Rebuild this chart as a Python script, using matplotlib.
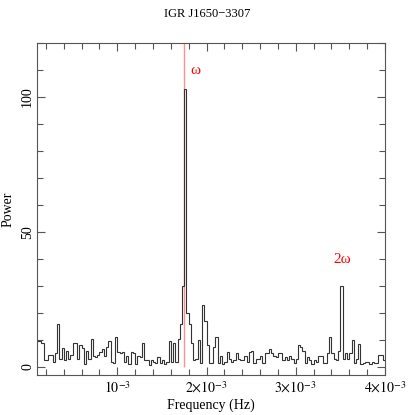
import numpy as np
import matplotlib
matplotlib.use('Agg')
import matplotlib.pyplot as plt
from matplotlib.ticker import FixedLocator, MultipleLocator

plt.rcParams['font.family'] = 'Liberation Serif'
plt.rcParams['mathtext.fontset'] = 'stix'

# power spectrum, bins of 2.5e-5 Hz starting at 1e-4 Hz
f_start = 1e-4
df = 2.5e-5
power = [
    9.5, 9.5, 9, 2.5, 2.5, 4.5, 4.5, 2, 5, 16,
    3, 7, 2.5, 6, 3, 4.5, 9, 9, 3, 8,
    7, 1, 6, 3, 10.5, 4, 3.5, 4.5, 5.5, 6.5,
    4, 7.5, 9.5, 2, 1.3, 11, 5.5, 5, 5.5, 2,
    4, 1, 5.5, 5, 1, 4, 3.5, 8.8, 2.5, 2.5,
    0.7, 2.5, 2, 1.5, 3.5, 1.5, 2.5, 1, 2, 9.5,
    2, 9, 2, 10.5, 16, 30, 103, 20, 16, 9,
    2.5, 3, 10, 1.5, 23, 17, 8, 1.5, 1.5, 7.5,
    11, 1.5, 4, 1, 2, 5.5, 3, 2, 2.5, 5,
    3, 2.5, 2.5, 4, 2, 5.5, 6, 1.5, 3, 3,
    4, 1.5, 5, 5, 6.7, 5, 4, 3.5, 5, 5,
    2.5, 3.5, 2.5, 4, 3, 1.5, 3, 8.2, 7.5, 6,
    1.5, 3.5, 2.5, 1, 2.5, 2, 4, 4, 1.5, 1.5,
    5.3, 11, 5.3, 3, 2.5, 6, 30, 3, 5.3, 3,
    5.3, 10, 1.5, 3, 8.5, 1, 1.5, 2, 2, 1.2,
    2, 1.5, 1.5, 4.5, 4.5, 2.5,
]
edges = f_start + df * np.arange(len(power) + 1)

omega = 1.745e-3
omega_label = ('ω', 1.82e-3, 109.7)
omega2_label = ('2ω', 3.52e-3, 39.8)

xticks = [1e-3, 2e-3, 3e-3, 4e-3]
xticklabels = [r'$10^{-3}$', r'$2{\times}10^{-3}$', r'$3{\times}10^{-3}$', r'$4{\times}10^{-3}$']
yticks = [0, 50, 100]

fig = plt.figure(figsize=(4.15, 4.15), dpi=100)
ax = fig.add_axes([37/415, 1 - 375/415, 348/415, 332/415])

ax.vlines(omega, 0, 120, color='#ff9090', linewidth=1.0, zorder=1)
ax.stairs(power, edges, color='#333333', linewidth=0.8, baseline=None, zorder=2)

ax.text(omega_label[1], omega_label[2], omega_label[0], color='red', fontsize=11,
        ha='left', va='center')
ax.text(omega2_label[1], omega2_label[2], omega2_label[0], color='red', fontsize=11,
        ha='center', va='center')

ax.set_xlim(1e-4, 4e-3)
ax.set_ylim(-3, 120)

ax.xaxis.set_major_locator(FixedLocator(xticks))
ax.set_xticklabels(xticklabels)
ax.xaxis.set_minor_locator(MultipleLocator(2e-4))
ax.yaxis.set_major_locator(FixedLocator(yticks))
ax.yaxis.set_minor_locator(MultipleLocator(10))

ax.tick_params(which='both', direction='in', top=True, right=True, colors='#555555',
               labelcolor='black', labelsize=10)
ax.tick_params(which='major', length=6, width=0.8)
ax.tick_params(which='minor', length=4, width=0.8)
ax.tick_params(axis='y', labelrotation=90, pad=2)
for lab in ax.get_yticklabels():
    lab.set_va('center')

for s in ax.spines.values():
    s.set_color('#555555')
    s.set_linewidth(0.8)

ax.set_xlabel('Frequency (Hz)', fontsize=10, labelpad=2)
ax.set_ylabel('Power', fontsize=10, va='center')
ax.yaxis.set_label_coords(-0.082, 0.5)
fig.text(0.5, 1 - 14/415, 'IGR J1650\u22123307', ha='center', va='center', fontsize=9)

fig.savefig('out.png', dpi=100)
